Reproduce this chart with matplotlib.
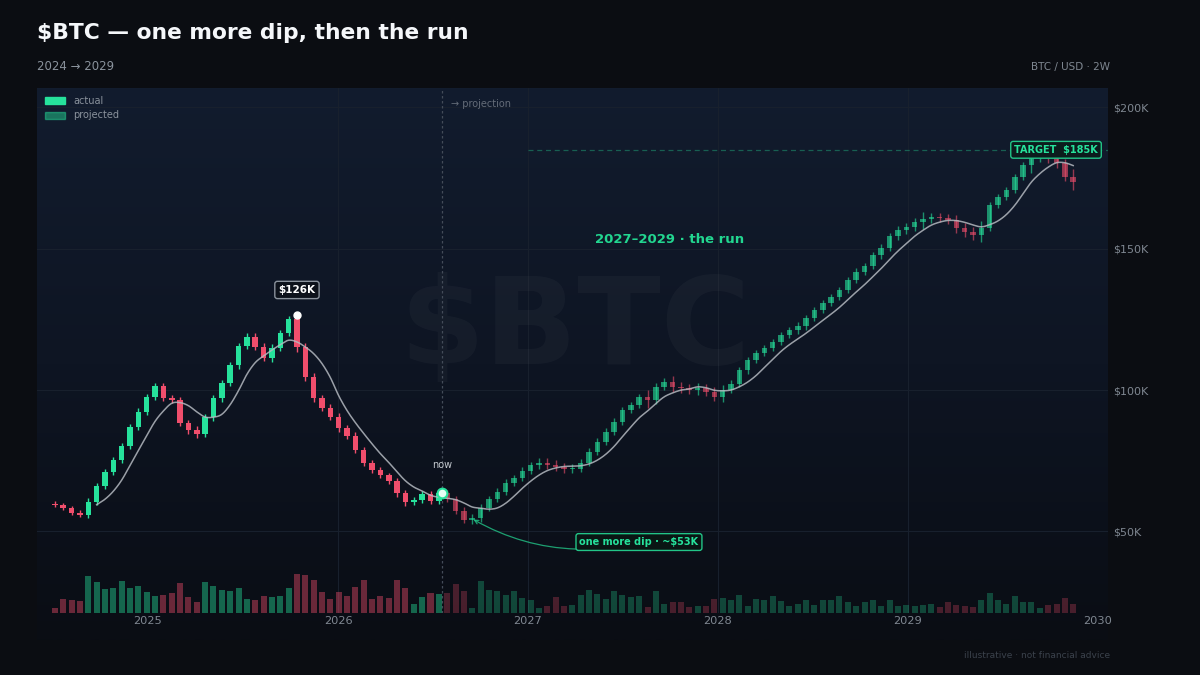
import numpy as np
import pandas as pd
import matplotlib
matplotlib.use("Agg")
import matplotlib.pyplot as plt
from matplotlib.patches import Rectangle
from matplotlib.colors import LinearSegmentedColormap

plt.rcParams['font.family'] = ['DejaVu Sans']

# ---------------- data (prices in $K) ----------------
first_open = 59.8
closes = [
    59.3, 58.2, 56.6, 55.8, 60.5, 66.0, 71.0, 75.2, 80.2, 86.9,
    92.3, 97.5, 101.4, 97.2, 96.5, 88.3, 85.8, 84.4, 90.4, 97.0,
    102.5, 108.8, 115.6, 118.9, 115.3, 111.3, 114.9, 120.2, 125.1, 115.2,
    104.6, 97.2, 93.8, 90.6, 86.5, 83.8, 78.8, 74.2, 71.7, 69.8,
    67.8, 63.5, 60.2, 61.0, 63.2, 60.8, 63.5,
    # projected
    61.4, 57.3, 54.0, 54.6, 58.3, 61.4, 64.0, 67.2, 68.9, 71.5,
    73.4, 74.3, 73.6, 72.8, 72.0, 72.2, 74.3, 78.2, 81.7, 85.2,
    88.8, 92.9, 94.7, 97.5, 96.3, 101.2, 102.9, 101.2, 100.6, 100.1,
    100.6, 99.4, 97.6, 100.0, 102.3, 107.0, 110.6, 113.1, 114.9, 117.0,
    119.5, 121.2, 122.6, 125.5, 128.3, 130.8, 132.9, 135.4, 138.9, 141.8,
    143.9, 147.8, 150.3, 154.5, 156.6, 157.7, 159.5, 160.5, 161.2, 160.9,
    160.2, 157.3, 155.9, 154.9, 157.3, 165.5, 168.3, 170.8, 175.4, 179.6,
    182.1, 183.2, 182.0, 180.2, 175.4, 173.6,
]
wicks = [
    0.8, 0.8, 0.8, 0.8, 1.2, 1.2, 1.2, 1.0, 1.2, 1.2,
    1.2, 1.2, 1.2, 1.2, 1.0, 1.2, 1.2, 1.3, 1.2, 1.2,
    1.2, 1.2, 1.2, 1.2, 1.2, 1.2, 1.4, 1.2, 1.0, 1.6,
    1.4, 1.4, 1.2, 1.2, 1.2, 1.2, 1.2, 1.2, 1.2, 1.0,
    1.0, 1.2, 1.2, 1.0, 1.0, 1.2, 1.0,
    1.2, 1.2, 1.2, 1.5, 1.2, 1.2, 1.2, 1.2, 1.2, 1.2,
    1.2, 1.5, 1.5, 1.5, 1.5, 1.5, 1.2, 1.2, 1.2, 1.2,
    1.2, 1.2, 1.2, 1.2, 2.5, 1.2, 1.2, 2.0, 1.5, 1.5,
    1.8, 1.5, 1.5, 1.8, 1.2, 1.2, 1.2, 1.2, 1.2, 1.2,
    1.2, 1.2, 1.5, 1.2, 1.2, 1.2, 1.2, 1.2, 1.2, 1.2,
    1.2, 1.2, 1.5, 1.2, 1.5, 1.5, 1.5, 2.5, 1.5, 1.5,
    1.5, 1.8, 1.8, 1.8, 2.5, 1.2, 1.2, 1.2, 1.2, 1.2,
    2.9, 1.5, 1.5, 1.5, 1.5, 2.8,
]
volumes = [
    5, 14, 12.7, 11.7, 36.7, 30.7, 24, 24.7, 32, 25,
    27.3, 20.7, 17.3, 18.3, 20, 30, 16, 11, 30.7, 27.3,
    22.7, 22.3, 25, 14, 13.3, 16.7, 16, 17.3, 25, 39.3,
    38.3, 33.3, 21.3, 14.5, 20.7, 16.7, 26, 32.7, 14, 17.3,
    15, 33.3, 25, 9.3, 16, 20, 19,
    20, 29.3, 21.7, 5, 31.7, 23.3, 22.3, 18.3, 21.7, 15,
    13.3, 5, 7.3, 16, 7.3, 8.3, 18.3, 22.7, 19.3, 14,
    21.7, 18.3, 16, 16.7, 6, 22.3, 9.3, 10.7, 10.7, 6,
    7.3, 6.7, 14, 15, 12.7, 18.3, 6.7, 14, 13.3, 16.7,
    11.7, 6.7, 9.3, 13.3, 8.3, 13.3, 12.7, 17.3, 10.7, 6.7,
    10.7, 13.3, 7.3, 13.3, 6.7, 8.3, 7.3, 8.3, 9.3, 6,
    10.7, 8.3, 7.3, 6, 13.3, 20, 13.3, 9.3, 16.7, 10.7,
    10.7, 5, 8.3, 9.3, 15, 9.3,
]
n_actual = 47
year_ticks = [2025, 2026, 2027, 2028, 2029, 2030]
price_ticks = [50, 100, 150, 200]
target_price = 185
dip_label_price = 53
peak_label = 126

start_year = 2024.51
step = 0.04393          # candle spacing in years
now_year = 2026.547

# ---------------- style ----------------
UP = '#26e29c'
DN = '#f04e6c'
TXT_DIM = '#7f8791'
W, H = 1200, 675


def fx(px):
    return px / W


def fy(py):
    return 1 - py / H


fig = plt.figure(figsize=(12, 6.75), dpi=100)
fig.patch.set_facecolor('#0b0d12')

# gradient panel
bg = fig.add_axes([fx(37), fy(640), fx(1108) - fx(37), fy(88) - fy(640)])
grad = np.linspace(0, 1, 256).reshape(-1, 1)
cmap = LinearSegmentedColormap.from_list('g', ['#121c2e', '#0e1523', '#0a0d14'])
bg.imshow(grad, aspect='auto', cmap=cmap, extent=[0, 1, 0, 1], origin='upper')
bg.set_axis_off()

ax = fig.add_axes([fx(37), fy(613), fx(1108) - fx(37), fy(88) - fy(613)])
ax.set_facecolor('none')
xlim = (2024.4158, 2030.0526)
ax.set_xlim(*xlim)
ax.set_ylim(21.09, 206.87)
for s in ax.spines.values():
    s.set_visible(False)

n = len(closes)
xs = np.array([start_year + i * step for i in range(n)])
c = np.array(closes)
o = np.concatenate([[first_open], c[:-1]])
wk = np.array(wicks)
hi = np.maximum(o, c) + wk
lo = np.minimum(o, c) - wk

# grid
for p in price_ticks:
    ax.axhline(p, color='#18202d', lw=0.8, zorder=0)
for yv in year_ticks[1:-1]:
    ax.axvline(yv, color='#18202d', lw=0.8, zorder=0)

# watermark
ax.text(2027.247, 121.2, '$BTC', fontsize=88, fontweight='bold', color='white',
        alpha=0.03, ha='center', va='center', zorder=0)

# now line
ax.axvline(now_year, color='#444c59', lw=0.9, ls=(0, (2, 2)), zorder=1)
ax.text(now_year + 0.05, 201.3, '→ projection', color='#646c78', fontsize=7,
        va='center', ha='left')

# target line
ax.hlines(target_price, 2027, xlim[1], colors=UP, alpha=0.35, lw=0.9,
          linestyles=(0, (4, 3)), zorder=1)

# candles
bw = step * 0.66
for i in range(n):
    up = c[i] >= o[i]
    col = UP if up else DN
    a = 1.0 if i < n_actual else 0.6
    ax.vlines(xs[i], lo[i], hi[i], color=col, lw=1.0, alpha=a, zorder=3)
    body = max(abs(c[i] - o[i]), 0.45)
    bottom = min(o[i], c[i]) if abs(c[i] - o[i]) >= 0.45 else (o[i] + c[i]) / 2 - 0.225
    ax.bar(xs[i], body, bottom=bottom, width=bw, color=col, alpha=a, zorder=3,
           linewidth=0)

# moving average (6-period SMA) smoothed for drawing
ma = pd.Series(c).rolling(6).mean().to_numpy()
mask = ~np.isnan(ma)


def catmull(px, py, k=10):
    P = np.column_stack([px, py])
    P = np.vstack([P[0], P, P[-1]])
    out = []
    t = np.linspace(0, 1, k, endpoint=False)[:, None]
    for j in range(1, len(P) - 2):
        p0, p1, p2, p3 = P[j - 1], P[j], P[j + 1], P[j + 2]
        seg = 0.5 * ((2 * p1) + (-p0 + p2) * t + (2 * p0 - 5 * p1 + 4 * p2 - p3) * t ** 2
                     + (-p0 + 3 * p1 - 3 * p2 + p3) * t ** 3)
        out.append(seg)
    out.append(P[-2][None, :])
    return np.vstack(out)


sm = catmull(xs[mask], ma[mask])
ax.plot(sm[:, 0], sm[:, 1], color='#b4b9c0', lw=1.1, alpha=0.85, zorder=4)

# peak annotation
ipk = int(np.argmax(hi[:n_actual]))
ax.plot(xs[ipk], hi[ipk], 'o', ms=5, color='white', zorder=6)
ax.text(xs[ipk], 135.4, f'${peak_label}K', ha='center', va='center', color='white',
        fontsize=7.5, fontweight='bold', zorder=7,
        bbox=dict(boxstyle='round,pad=0.35,rounding_size=0.25', fc='#0d121b',
                  ec='#8a929c', lw=1))

# now marker
ax.plot(now_year, c[n_actual - 1], 'o', ms=7, mfc='#e6fff4', mec=UP, mew=1.5, zorder=7)
ax.text(now_year, 73.5, 'now', ha='center', va='center', color='#c3c8ce', fontsize=7)

# dip annotation
ax.annotate(f'one more dip · ~${dip_label_price}K', xy=(xs[50], dip_label_price + 1.4),
            xytext=(2027.584, 46.2), ha='center', va='center', color=UP,
            fontsize=7, fontweight='bold', zorder=7,
            bbox=dict(boxstyle='round,pad=0.35,rounding_size=0.25', fc='#0a1614',
                      ec='#22c487', lw=1),
            arrowprops=dict(arrowstyle='->', color='#22c487', lw=0.9, alpha=0.8,
                            connectionstyle='arc3,rad=-0.2', shrinkA=0, shrinkB=1))

# target label
ax.text(2029.779, target_price, f'TARGET  ${target_price}K', ha='center', va='center',
        color=UP, fontsize=7, fontweight='bold', zorder=7,
        bbox=dict(boxstyle='round,pad=0.35,rounding_size=0.25', fc='#0c1c1d',
                  ec='#22c487', lw=1))

# run label
ax.text(2027.747, 153.4, '2027–2029 · the run', ha='center', va='center',
        color='#22d690', fontsize=9.5, fontweight='bold')

# ticks
ax.yaxis.tick_right()
ax.set_yticks(price_ticks)
ax.set_yticklabels([f'${p}K' for p in price_ticks])
ax.set_xticks(year_ticks)
ax.set_xticklabels([str(y) for y in year_ticks])
ax.tick_params(axis='y', length=0, pad=3.5, labelsize=8, labelcolor=TXT_DIM)
ax.tick_params(axis='x', length=0, pad=2, labelsize=8.2, labelcolor=TXT_DIM)

# volume
vax = fig.add_axes([fx(37), fy(613), fx(1108) - fx(37), 40 / H])
vax.set_facecolor('none')
vax.set_xlim(*xlim)
vax.set_ylim(0, 40)
vax.set_axis_off()
vb = step * 0.72
for i in range(n):
    col = UP if c[i] >= o[i] else DN
    a = 0.42 if i < n_actual else 0.27
    vax.bar(xs[i], volumes[i], width=vb, color=col, alpha=a, linewidth=0)

# legend
fig.patches.append(Rectangle((fx(45), fy(104)), fx(20), 7 / H, transform=fig.transFigure,
                             color=UP, zorder=10))
fig.patches.append(Rectangle((fx(45), fy(119)), fx(20), 7 / H, transform=fig.transFigure,
                             color=UP, alpha=0.45, zorder=10))
fig.text(fx(73), fy(100.5), 'actual', color='#8a929c', fontsize=7, va='center')
fig.text(fx(73), fy(115.5), 'projected', color='#8a929c', fontsize=7, va='center')

# header / footer
fig.text(fx(37), fy(33), '$BTC — one more dip, then the run', color='#f5f7fa',
         fontsize=15.7, fontweight='bold', va='center', ha='left')
fig.text(fx(37), fy(67), '2024 → 2029', color='#8a929c', fontsize=8.5, va='center')
fig.text(fx(1110), fy(67), 'BTC / USD · 2W', color='#7f8791', fontsize=7.5,
         va='center', ha='right')
fig.text(fx(1110), fy(656), 'illustrative · not financial advice', color='#3b424c',
         fontsize=6.5, va='center', ha='right')

fig.savefig('out.png', dpi=100, facecolor=fig.get_facecolor())
